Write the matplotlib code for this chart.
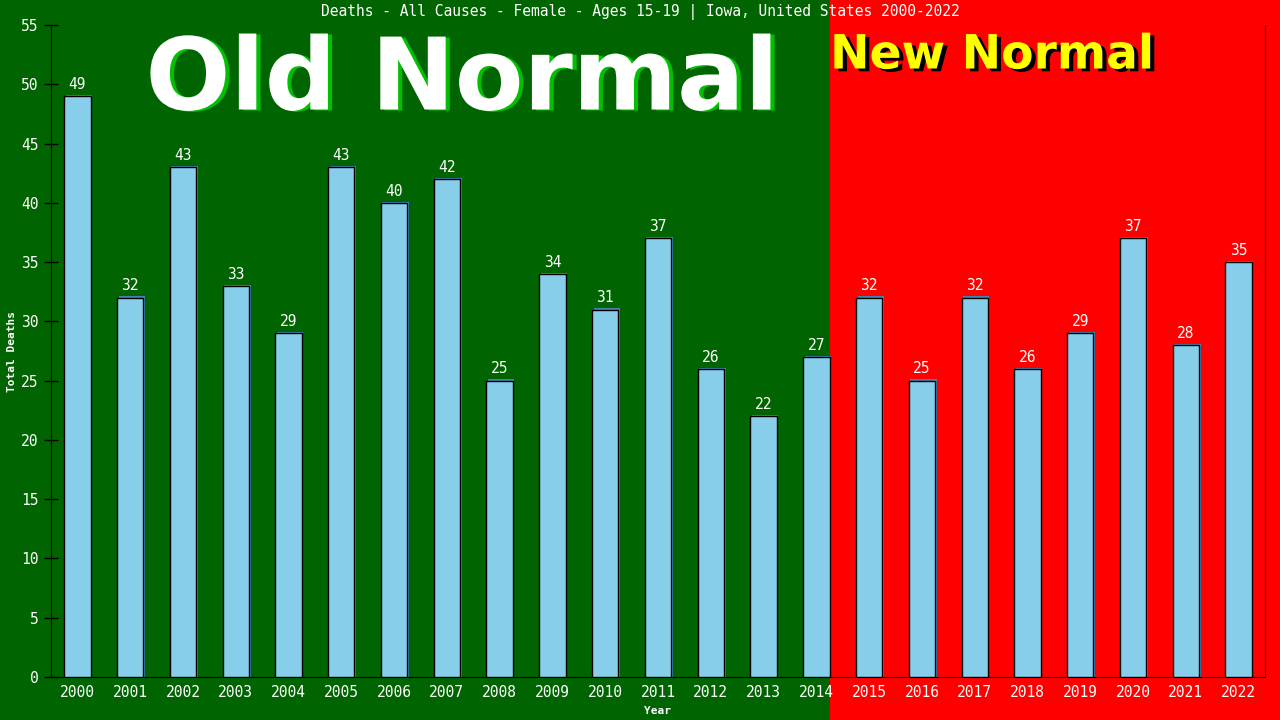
"""
Deaths, all causes, female 15-19, Iowa 2000-2022: bars on an old/new normal backdrop.
"""
import matplotlib
matplotlib.use("Agg")
import matplotlib.pyplot as plt
import matplotlib.patheffects as pe
from matplotlib.patches import Rectangle
from matplotlib.transforms import blended_transform_factory

GREEN = "#006400"
RED = "#FF0000"
BAR = "#87CEEB"
SHADOW = "#4682B4"
MONO = "DejaVu Sans Mono"

years = [str(y) for y in range(2000, 2023)]
deaths = [49, 32, 43, 33, 29, 43, 40, 42, 25, 34, 31, 37,
          26, 22, 27, 32, 25, 32, 26, 29, 37, 28, 35]
split_after = "2014"
title = "Deaths - All Causes - Female - Ages 15-19 | Iowa, United States 2000-2022"

fig = plt.figure(figsize=(12.8, 7.2), dpi=100)
fig.patch.set_facecolor(GREEN)
ax = fig.add_axes([51 / 1280, 43 / 720, 1214 / 1280, 652 / 720])
ax.set_facecolor("none")

x = list(range(len(years)))
split = years.index(split_after) + 0.25

# backdrop: green left of the split, red to the right, full figure height
bt = blended_transform_factory(ax.transData, fig.transFigure)
ax.add_patch(Rectangle((-20, 0), split + 20, 1, transform=bt, color=GREEN,
                       clip_on=False, zorder=-10))
ax.add_patch(Rectangle((split, 0), 40, 1, transform=bt, color=RED,
                       clip_on=False, zorder=-10))

ax.bar([i + 0.03 for i in x], [d + 0.1 for d in deaths], width=0.5,
       color=SHADOW, zorder=2)
ax.bar(x, deaths, width=0.5, color=BAR, edgecolor="black", lw=1, zorder=3)
for i, d in zip(x, deaths):
    ax.annotate(str(d), (i, d), xytext=(0, 3), textcoords="offset points",
                ha="center", va="bottom", color="white", family=MONO,
                fontsize=10.5, zorder=4)

ax.set_xlim(-0.5, len(years) - 0.5)
ax.set_ylim(0, 55)
ax.set_yticks(range(0, 56, 5))
ax.set_xticks(x)
ax.set_xticklabels(years)
for lab in ax.get_xticklabels() + ax.get_yticklabels():
    lab.set_family(MONO)
    lab.set_fontsize(10.5)
    lab.set_color("white")
ax.tick_params(axis="x", length=0, pad=6)
ax.tick_params(axis="y", direction="inout", length=10, width=1, color="black", pad=4)
ax.spines["top"].set_visible(False)
for s in ("left", "bottom", "right"):
    ax.spines[s].set_color("black")

ax.set_xlabel("Year", family=MONO, fontsize=8, fontweight="bold", color="white",
              labelpad=4)
ax.set_ylabel("Total Deaths", family=MONO, fontsize=8, fontweight="bold",
              color="white", labelpad=3)

fig.text(0.5, 1 - 12 / 720, title, ha="center", va="center", color="white",
         family=MONO, fontsize=10.5)

# big banner words with drop shadows
fig.text(462 / 1280, 1 - 82 / 720, "Old Normal", ha="center", va="center",
         fontsize=72, fontweight="bold", color="white",
         path_effects=[pe.withSimplePatchShadow(offset=(3, -0.7),
                                                shadow_rgbFace="#00C000", alpha=1)])
fig.text(830 / 1280, 1 - 56 / 720, "New Normal", ha="left", va="center",
         fontsize=34, fontweight="bold", color="#FFFF00",
         path_effects=[pe.withSimplePatchShadow(offset=(3, -2),
                                                shadow_rgbFace="black", alpha=1)])

fig.savefig("out.png", dpi=100, facecolor=fig.get_facecolor())
